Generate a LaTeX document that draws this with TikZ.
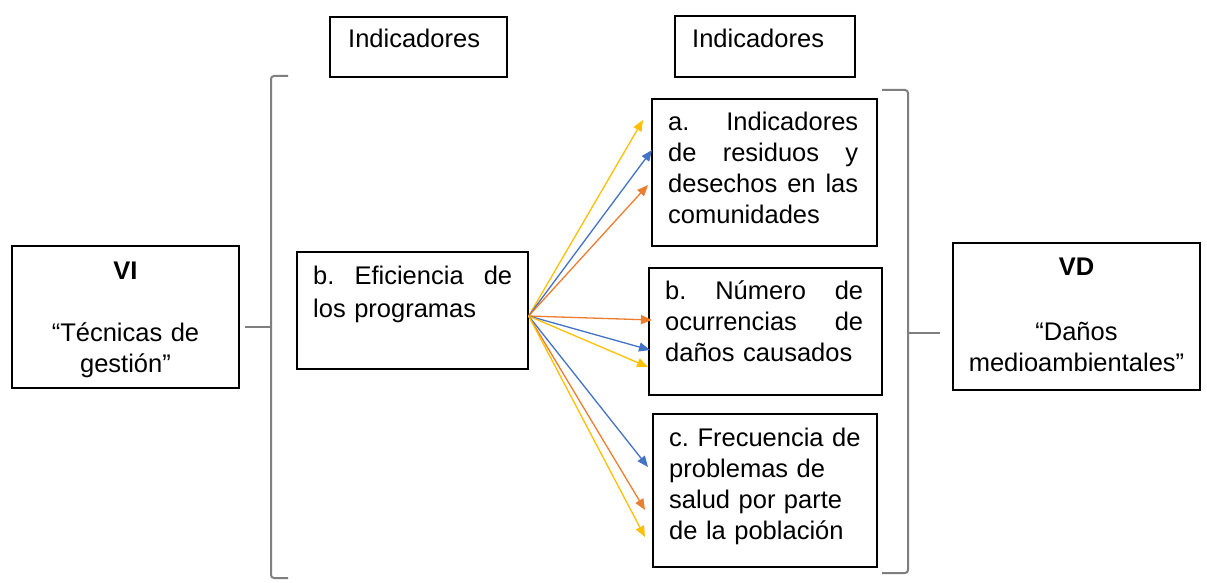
\documentclass[tikz,border=0pt]{standalone}
\usepackage{fontspec}
\setmainfont{Liberation Sans}
\usetikzlibrary{arrows.meta}
\definecolor{cyel}{HTML}{FFC000}
\definecolor{cblu}{HTML}{4472C4}
\definecolor{corg}{HTML}{ED7D31}
\definecolor{cbrk}{HTML}{7F7F7F}
\newcommand\jline[2]{\leavevmode\hbox to #1{#2}}
\begin{document}
\frenchspacing
\begin{tikzpicture}[x=1pt,y=-1pt,
  box/.style={draw=black,line width=1.3pt,inner sep=0pt,fill=none},
  txt/.style={inner sep=0pt,anchor=base west,align=left,font=\fontsize{25.5}{31}\selectfont},
  ctxt/.style={inner sep=0pt,anchor=base,align=center,font=\fontsize{25.5}{31}\selectfont},
  arr/.style={line width=1.3pt,-{Triangle[length=11pt,width=9pt]}},
  brk/.style={draw=cbrk,line width=2pt,rounded corners=3pt}]
\useasboundingbox[fill=white] (0,0) rectangle (1207,583);

% boxes
\node[box,minimum width=177pt,minimum height=60pt] (ind1) at (418.5,47) {};
\node[box,minimum width=180pt,minimum height=61pt] (ind2) at (765,46.5) {};
\node[box,minimum width=227pt,minimum height=142pt] (vi) at (125.5,317) {};
\node[box,minimum width=231pt,minimum height=117pt] (eff) at (412.5,310.5) {};
\node[box,minimum width=225pt,minimum height=147pt] (ba) at (764.5,172.5) {};
\node[box,minimum width=233pt,minimum height=127pt] (bb) at (765.5,331.5) {};
\node[box,minimum width=224pt,minimum height=153pt] (bc) at (765,490.5) {};
\node[box,minimum width=247pt,minimum height=147pt] (vd) at (1076.5,316.5) {};

% texts
\node[txt] (tind1) at (348,48) {Indicadores};
\node[txt] (tind2) at (692,48) {Indicadores};
\node[ctxt,text width=220pt] (tvi) at (125.5,279) {\textbf{VI}\\ \mbox{}\\ “Técnicas de\\ gestión”};
\node[txt,text width=200pt] (teff) at (313,284) {\jline{199pt}{b.\hfill Eficiencia\hfill de}\\[2pt] los programas};
\node[txt,text width=192pt] (tba) at (668,131) {\jline{190pt}{a.\hfill Indicadores}\\ \jline{190pt}{de\hfill residuos\hfill y}\\ \jline{190pt}{desechos\hfill en\hfill las}\\ comunidades};
\node[txt,text width=200pt] (tbb) at (665,299) {\jline{198pt}{b.\hfill Número\hfill de}\\ \jline{198pt}{ocurrencias\hfill de}\\ daños causados};
\node[txt,text width=200pt] (tbc) at (669,446) {c. Frecuencia de\\ problemas de\\ salud por parte\\ de la población};
\node[ctxt,text width=240pt] (tvd) at (1076.5,275) {\textbf{VD}\\[34pt] “Daños\\ medioambientales”};

% brackets
\draw[brk] (288,76) -- (271,76) -- (271,578) -- (288,578);
\draw[brk] (245,327) -- (271,327);
\draw[brk] (882,90) -- (908,90) -- (908,573) -- (882,573);
\draw[brk] (908,333) -- (940,333);

% arrow targets
\coordinate (ay) at (643,120);
\coordinate (ab) at (652,150);
\coordinate (ao) at (648,185);
\coordinate (bo) at (652,320);
\coordinate (bbl) at (650,350);
\coordinate (byl) at (648,367);
\coordinate (cb) at (648,467);
\coordinate (co) at (645,510);
\coordinate (cy) at (645,537);
\coordinate (src) at ([yshift=-5.5pt]eff.east);

\draw[arr,cyel] (src) -- (ay);
\draw[arr,cblu] (src) -- (ab);
\draw[arr,corg] (src) -- (ao);
\draw[arr,corg] (src) -- (bo);
\draw[arr,cblu] (src) -- (bbl);
\draw[arr,cyel] (src) -- (byl);
\draw[arr,cblu] (src) -- (cb);
\draw[arr,corg] (src) -- (co);
\draw[arr,cyel] (src) -- (cy);
\end{tikzpicture}
\end{document}
